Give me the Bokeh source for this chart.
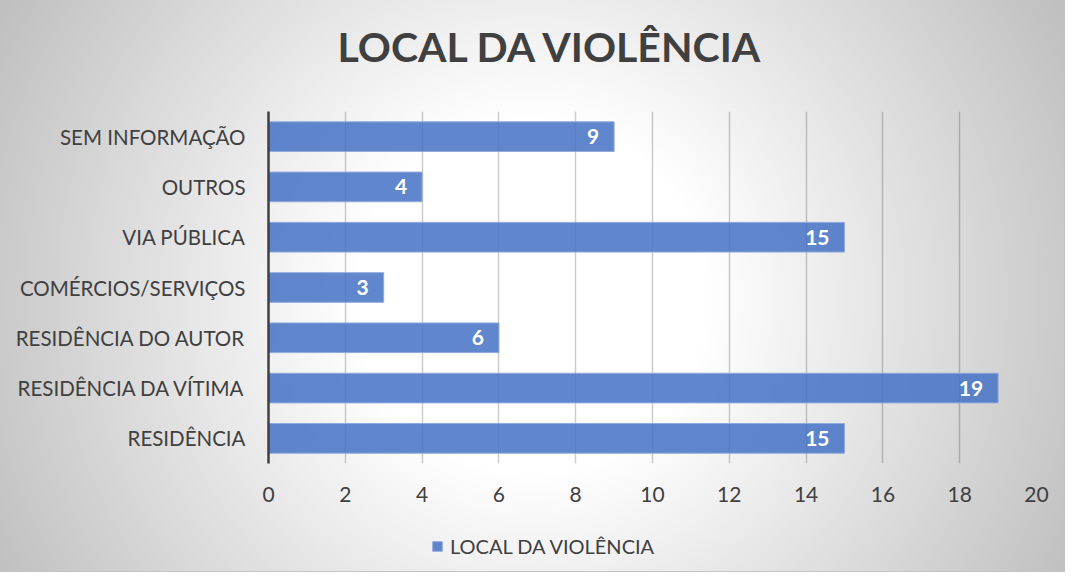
from bokeh.plotting import figure
from bokeh.layouts import column
from bokeh.models import (ColumnDataSource, Range1d, FactorRange, LabelSet, Legend,
                          LegendItem, FixedTicker, Label)
from bokeh.core.properties import value
from bokeh.embed import file_html
from bokeh.resources import INLINE

# ---- data ----
categories = ["RESIDÊNCIA", "RESIDÊNCIA DA VÍTIMA", "RESIDÊNCIA DO AUTOR",
              "COMÉRCIOS/SERVIÇOS", "VIA PÚBLICA", "OUTROS", "SEM INFORMAÇÃO"]
counts = [15, 19, 6, 3, 15, 4, 9]
x_ticks = [0, 2, 4, 6, 8, 10, 12, 14, 16, 18, 20]
series_name = "LOCAL DA VIOLÊNCIA"
title_text = "LOCAL DA VIOLÊNCIA"

FONT = "Lato"
TEXT = "#404040"
BAR = "#4472C4"
BAR_EDGE = "#8FAADC"
BORDER_L, BORDER_R = 268, 28
W = 1064


def strip(height, bottom=0):
    f = figure(width=W, height=height,
               y_range=FactorRange(factors=categories), x_range=Range1d(0, 20),
               output_backend="svg", toolbar_location=None,
               x_axis_type=None, y_axis_type=None,
               min_border_left=BORDER_L, min_border_right=BORDER_R,
               min_border_top=0, min_border_bottom=bottom)
    f.background_fill_color = None
    f.border_fill_color = None
    f.outline_line_color = None
    f.xgrid.visible = False
    f.ygrid.visible = False
    return f


source = ColumnDataSource(dict(cat=categories, count=counts,
                               label=[str(v) for v in counts]))

# ---- title strip ----
tf = strip(111)
tf.add_layout(Label(x=69, y=65, x_units="screen", y_units="screen",
                    text=title_text, text_align="left", text_baseline="alphabetic",
                    text_font=FONT, text_font_style="bold", text_font_size="41px",
                    text_color=TEXT))

# ---- main chart ----
p = figure(width=W, height=412,
           y_range=FactorRange(factors=categories),
           x_range=Range1d(0, 20),
           output_backend="svg", toolbar_location=None,
           min_border_left=BORDER_L, min_border_right=BORDER_R,
           min_border_top=0, min_border_bottom=60)
p.background_fill_color = None
p.border_fill_color = None
p.outline_line_color = None

bars = p.hbar(y="cat", right="count", left=0, height=0.59, source=source,
              fill_color=BAR, fill_alpha=0.85,
              line_color=BAR_EDGE, line_width=1)

labels = LabelSet(x="count", y="cat", text="label", source=source,
                  x_offset=-15, text_align="right", text_baseline="middle",
                  text_color="white", text_font=value(FONT),
                  text_font_style="bold", text_font_size="21px")
p.add_layout(labels)

p.yaxis.major_label_text_font = FONT
p.yaxis.major_label_text_font_size = "20.5px"
p.yaxis.major_label_text_color = TEXT
p.yaxis.axis_line_color = TEXT
p.yaxis.axis_line_width = 2.5
p.yaxis.major_tick_line_color = None
p.yaxis.minor_tick_line_color = None
p.yaxis.major_label_standoff = 17

p.xaxis.ticker = FixedTicker(ticks=x_ticks)
p.xaxis.axis_line_color = None
p.xaxis.major_tick_line_color = None
p.xaxis.minor_tick_line_color = None
p.xaxis.major_label_text_font = FONT
p.xaxis.major_label_text_font_size = "21px"
p.xaxis.major_label_text_color = TEXT
p.xaxis.major_label_standoff = 17

p.xgrid.ticker = FixedTicker(ticks=x_ticks)
p.xgrid.grid_line_color = "#000000"
p.xgrid.grid_line_alpha = 0.2
p.xgrid.grid_line_width = 1.5
p.ygrid.grid_line_color = None

# ---- legend strip ----
lg = strip(48, bottom=3)
proxy = lg.hbar(y="cat", right="count", left=0, height=0.59, source=source,
                fill_color=BAR, fill_alpha=0.85, line_color=BAR_EDGE,
                line_width=1, visible=False)
legend = Legend(items=[LegendItem(label=series_name, renderers=[proxy])],
                location="center", orientation="horizontal",
                background_fill_alpha=0, border_line_color=None,
                glyph_width=12, glyph_height=12,
                label_standoff=7, padding=10, margin=0, label_width=423,
                label_height=24,
                label_text_font=FONT, label_text_font_size="20px",
                label_text_color=TEXT)
lg.add_layout(legend)

layout = column(tf, p, lg, spacing=0)
layout.styles = {
    "background": "radial-gradient(circle 620px at 50% 52%, #ffffff 0%, #ffffff 28%, #bdbdbd 100%)",
    "box-shadow": "0 0 0 1px #c4c4c4",
}

open("out.html", "w").write(file_html(layout, INLINE))
